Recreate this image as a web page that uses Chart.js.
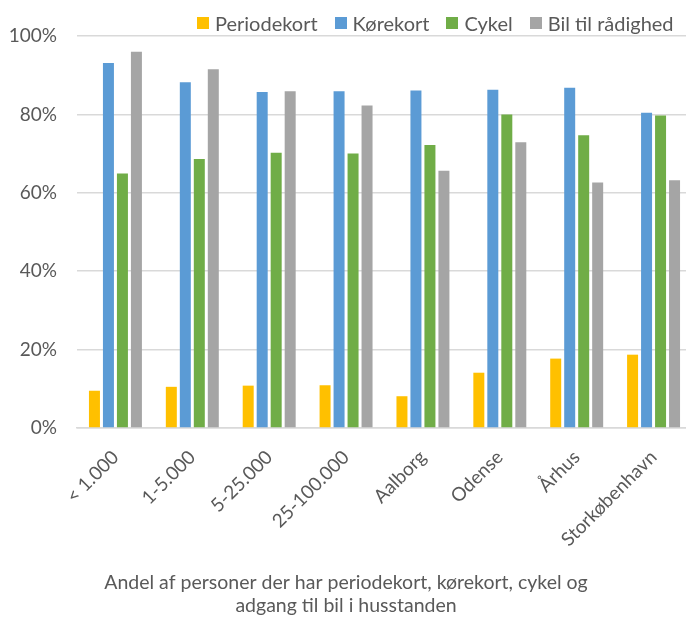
<!DOCTYPE html>
<html>
<head>
<meta charset="utf-8">
<script src="https://cdn.jsdelivr.net/npm/chart.js@4"></script>
<style>
  html, body { margin: 0; padding: 0; background: #fff; overflow: hidden; }
  .wrap { position: relative; width: 712px; height: 619px; }
  .legend { position: absolute; top: 11px; left: 197px; display: flex; font: 20px Lato, sans-serif; color: #595959; white-space: nowrap; }
  .legend span { display: flex; align-items: center; margin-right: 17px; }
  .legend i { display: inline-block; width: 12px; height: 12px; margin-right: 6px; }
</style>
</head>
<body>
<div class="wrap">
  <canvas id="c"></canvas>
  <div class="legend" id="legend"></div>
</div>
<script>
const categories = ['< 1.000', '1-5.000', '5-25.000', '25-100.000', 'Aalborg', 'Odense', 'Århus', 'Storkøbenhavn'];
const periodekort = [9.5, 10.5, 10.8, 10.9, 8.1, 14.1, 17.7, 18.7];
const koerekort = [93.1, 88.2, 85.7, 85.9, 86.1, 86.3, 86.8, 80.4];
const cykel = [64.9, 68.6, 70.2, 70.0, 72.2, 80.0, 74.7, 79.7];
const bil = [96.0, 91.5, 85.9, 82.3, 65.6, 72.9, 62.6, 63.2];
const yTicks = [0, 20, 40, 60, 80, 100];
const axisTitle = ['Andel af personer der har periodekort, kørekort, cykel og', 'adgang til bil i husstanden'];

const txt = '#595959', grid = '#d9d9d9';
const font = { family: 'Lato, sans-serif', size: 19 };

function ds(label, data, color) {
  return { label, data, backgroundColor: color, categoryPercentage: 0.728, barPercentage: 0.786 };
}
const datasets = [
  ds('Periodekort', periodekort, '#FFC000'),
  ds('Kørekort', koerekort, '#5B9BD5'),
  ds('Cykel', cykel, '#70AD47'),
  ds('Bil til rådighed', bil, '#A5A5A5'),
];

// legend sits off-centre to the right in the original, so build it by hand
document.getElementById('legend').innerHTML = datasets
  .map(d => `<span><i style="background:${d.backgroundColor}"></i>${d.label}</span>`).join('');

new Chart(document.getElementById('c'), {
  type: 'bar',
  data: { labels: categories, datasets },
  options: {
    responsive: true, maintainAspectRatio: false, animation: false,
    layout: { padding: { top: 36, right: 20, left: 0, bottom: 0 } },   // plot runs past the 686px crop, like the source
    scales: {
      x: {
        grid: { display: false },
        border: { color: grid, width: 1.5 },
        ticks: { color: txt, font, minRotation: 45, maxRotation: 45, padding: 10 },
        afterFit: s => { s.height = 135; },
      },
      y: {
        min: 0, max: 100,
        afterBuildTicks: s => { s.ticks = yTicks.map(v => ({ value: v })); },
        ticks: { color: txt, font, padding: 20, callback: v => v + '%' },
        grid: { color: grid, lineWidth: 1.5, drawTicks: false },
        border: { display: false },
        afterFit: s => { s.width = 77; },
      }
    },
    plugins: {
      legend: { display: false },
      tooltip: { enabled: false },
      title: {
        display: true, position: 'bottom', text: axisTitle, color: txt,
        font: { family: 'Lato, sans-serif', size: 19.5, weight: 'normal', lineHeight: 1.18 },
        padding: { top: 8, bottom: 2 }
      }
    }
  }
});
</script>
</body>
</html>
